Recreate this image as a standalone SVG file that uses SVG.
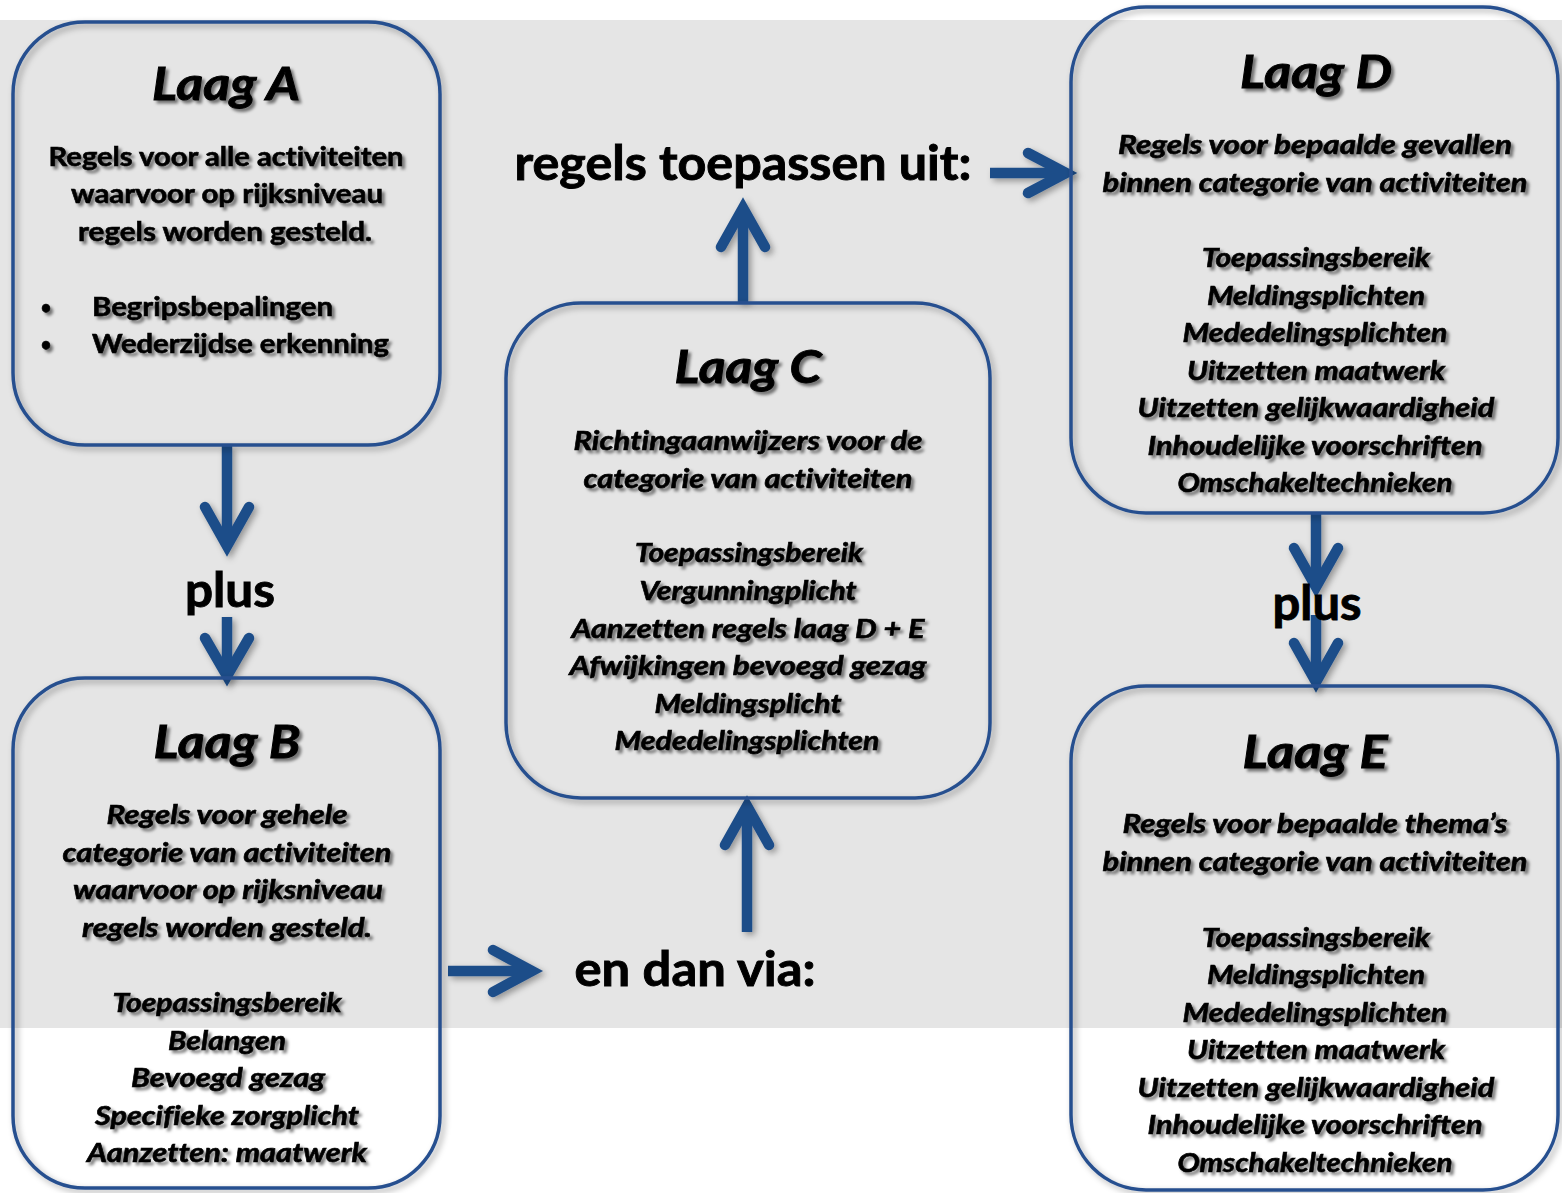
<svg xmlns="http://www.w3.org/2000/svg" width="1562" height="1193" viewBox="0 0 1562 1193">
<defs>
<filter id="ts" x="-10%" y="-30%" width="120%" height="160%">
<feDropShadow dx="3" dy="3" stdDeviation="1.8" flood-color="#000" flood-opacity="0.5"/>
</filter>
<filter id="bs" x="-5%" y="-5%" width="110%" height="110%">
<feDropShadow dx="3" dy="3" stdDeviation="3" flood-color="#000" flood-opacity="0.35"/>
</filter>
<style>
.box{fill:none;stroke:#28508f;stroke-width:3.5}
.t{font-family:Lato,"Liberation Sans",sans-serif;font-weight:bold;fill:#000;stroke:#000;stroke-width:0.6;text-anchor:middle;font-variant-ligatures:none}
.title{font-size:45px;font-style:italic;stroke-width:0.9}
.body{font-size:26px}
.it{font-style:italic}
.big{font-size:47px;stroke-width:0.9}
.bul{font-size:18px}
.sh{filter:url(#ts)}
.shaft{stroke:#1f4e89;stroke-width:10.5;fill:none;stroke-linecap:butt}
.head{stroke:#1f4e89;stroke-width:10.5;fill:none;stroke-linecap:round;stroke-linejoin:miter;stroke-miterlimit:10}
</style>
</defs>
<rect x="0" y="0" width="1562" height="1193" fill="#ffffff"/>
<rect x="0" y="20" width="1562" height="1008" fill="#e5e5e5"/>

<g id="connectors" filter="url(#bs)">
<line class="shaft" x1="227" y1="446" x2="227" y2="540"/>
<polyline class="head" points="205,507 227,546 249,507"/>
<line class="shaft" x1="227" y1="617" x2="227" y2="670"/>
<polyline class="head" points="205,638 227,676 249,638"/>
<line class="shaft" x1="743" y1="302" x2="743" y2="212"/>
<polyline class="head" points="721,247 743,208 765,247"/>
<line class="shaft" x1="747" y1="932" x2="747" y2="812"/>
<polyline class="head" points="725,845 747,806 769,845"/>
<line class="shaft" x1="448" y1="971" x2="528" y2="971"/>
<polyline class="head" points="493,950 532,971 493,992"/>
<line class="shaft" x1="990" y1="173" x2="1062" y2="173"/>
<polyline class="head" points="1028,153 1066,173 1028,193"/>
<line class="shaft" x1="1316" y1="514" x2="1316" y2="582"/>
<polyline class="head" points="1294,548 1316,587 1338,548"/>
<line class="shaft" x1="1316" y1="615" x2="1316" y2="678"/>
<polyline class="head" points="1294,643 1316,682 1338,643"/>
</g>

<g id="laagA">
<rect class="box" x="13" y="22" width="427" height="423" rx="72" filter="url(#bs)"/>
<g class="sh">
<text class="t title" x="226" y="100" textLength="148" lengthAdjust="spacingAndGlyphs">Laag A</text>
<text class="t body" x="226" y="166" textLength="355" lengthAdjust="spacingAndGlyphs">Regels voor alle activiteiten</text>
<text class="t body" x="227" y="203" textLength="312" lengthAdjust="spacingAndGlyphs">waarvoor op rijksniveau</text>
<text class="t body" x="225" y="241" textLength="294" lengthAdjust="spacingAndGlyphs">regels worden gesteld.</text>
<text class="t bul" x="46" y="314">•</text>
<text class="t bul" x="46" y="351">•</text>
<text class="t body" x="92" y="316" style="text-anchor:start" textLength="241" lengthAdjust="spacingAndGlyphs">Begripsbepalingen</text>
<text class="t body" x="92" y="353" style="text-anchor:start" textLength="297" lengthAdjust="spacingAndGlyphs">Wederzijdse erkenning</text>
</g>
</g>

<g id="laagB">
<rect class="box" x="13" y="678" width="427" height="510" rx="72" filter="url(#bs)"/>
<g class="sh">
<text class="t title" x="227" y="758" textLength="147" lengthAdjust="spacingAndGlyphs">Laag B</text>
<text class="t body it" x="227" y="824" textLength="241" lengthAdjust="spacingAndGlyphs">Regels voor gehele</text>
<text class="t body it" x="227" y="862" textLength="329" lengthAdjust="spacingAndGlyphs">categorie van activiteiten</text>
<text class="t body it" x="228" y="899" textLength="310" lengthAdjust="spacingAndGlyphs">waarvoor op rijksniveau</text>
<text class="t body it" x="227" y="937" textLength="290" lengthAdjust="spacingAndGlyphs">regels worden gesteld.</text>
<text class="t body it" x="227" y="1012" textLength="229" lengthAdjust="spacingAndGlyphs">Toepassingsbereik</text>
<text class="t body it" x="227" y="1050" textLength="118" lengthAdjust="spacingAndGlyphs">Belangen</text>
<text class="t body it" x="228" y="1087" textLength="194" lengthAdjust="spacingAndGlyphs">Bevoegd gezag</text>
<text class="t body it" x="227" y="1125" textLength="264" lengthAdjust="spacingAndGlyphs">Specifieke zorgplicht</text>
<text class="t body it" x="227" y="1162" textLength="280" lengthAdjust="spacingAndGlyphs">Aanzetten: maatwerk</text>
</g>
</g>

<g id="laagC">
<rect class="box" x="506" y="303" width="484" height="495" rx="75" filter="url(#bs)"/>
<g class="sh">
<text class="t title" x="748" y="383" textLength="147" lengthAdjust="spacingAndGlyphs">Laag C</text>
<text class="t body it" x="748" y="450" textLength="349" lengthAdjust="spacingAndGlyphs">Richtingaanwijzers voor de</text>
<text class="t body it" x="748" y="488" textLength="329" lengthAdjust="spacingAndGlyphs">categorie van activiteiten</text>
<text class="t body it" x="749" y="562" textLength="228" lengthAdjust="spacingAndGlyphs">Toepassingsbereik</text>
<text class="t body it" x="748" y="600" textLength="217" lengthAdjust="spacingAndGlyphs">Vergunningplicht</text>
<text class="t body it" x="748" y="638" textLength="353" lengthAdjust="spacingAndGlyphs">Aanzetten regels laag D + E</text>
<text class="t body it" x="748" y="675" textLength="357" lengthAdjust="spacingAndGlyphs">Afwijkingen bevoegd gezag</text>
<text class="t body it" x="748" y="713" textLength="187" lengthAdjust="spacingAndGlyphs">Meldingsplicht</text>
<text class="t body it" x="747" y="750" textLength="265" lengthAdjust="spacingAndGlyphs">Mededelingsplichten</text>
</g>
</g>

<g id="laagD">
<rect class="box" x="1071" y="7" width="487" height="506" rx="75" filter="url(#bs)"/>
<g class="sh">
<text class="t title" x="1316" y="88" textLength="152" lengthAdjust="spacingAndGlyphs">Laag D</text>
<text class="t body it" x="1315" y="154" textLength="394" lengthAdjust="spacingAndGlyphs">Regels voor bepaalde gevallen</text>
<text class="t body it" x="1315" y="192" textLength="425" lengthAdjust="spacingAndGlyphs">binnen categorie van activiteiten</text>
<text class="t body it" x="1316" y="267" textLength="228" lengthAdjust="spacingAndGlyphs">Toepassingsbereik</text>
<text class="t body it" x="1316" y="305" textLength="218" lengthAdjust="spacingAndGlyphs">Meldingsplichten</text>
<text class="t body it" x="1315" y="342" textLength="265" lengthAdjust="spacingAndGlyphs">Mededelingsplichten</text>
<text class="t body it" x="1316" y="380" textLength="258" lengthAdjust="spacingAndGlyphs">Uitzetten maatwerk</text>
<text class="t body it" x="1316" y="417" textLength="357" lengthAdjust="spacingAndGlyphs">Uitzetten gelijkwaardigheid</text>
<text class="t body it" x="1315" y="455" textLength="335" lengthAdjust="spacingAndGlyphs">Inhoudelijke voorschriften</text>
<text class="t body it" x="1315" y="492" textLength="275" lengthAdjust="spacingAndGlyphs">Omschakeltechnieken</text>
</g>
</g>

<g id="laagE">
<rect class="box" x="1071" y="686" width="487" height="504" rx="75" filter="url(#bs)"/>
<g class="sh">
<text class="t title" x="1315" y="768" textLength="145" lengthAdjust="spacingAndGlyphs">Laag E</text>
<text class="t body it" x="1315" y="833" textLength="385" lengthAdjust="spacingAndGlyphs">Regels voor bepaalde thema’s</text>
<text class="t body it" x="1315" y="871" textLength="425" lengthAdjust="spacingAndGlyphs">binnen categorie van activiteiten</text>
<text class="t body it" x="1316" y="947" textLength="228" lengthAdjust="spacingAndGlyphs">Toepassingsbereik</text>
<text class="t body it" x="1316" y="984" textLength="218" lengthAdjust="spacingAndGlyphs">Meldingsplichten</text>
<text class="t body it" x="1315" y="1022" textLength="265" lengthAdjust="spacingAndGlyphs">Mededelingsplichten</text>
<text class="t body it" x="1316" y="1059" textLength="258" lengthAdjust="spacingAndGlyphs">Uitzetten maatwerk</text>
<text class="t body it" x="1316" y="1097" textLength="357" lengthAdjust="spacingAndGlyphs">Uitzetten gelijkwaardigheid</text>
<text class="t body it" x="1315" y="1134" textLength="335" lengthAdjust="spacingAndGlyphs">Inhoudelijke voorschriften</text>
<text class="t body it" x="1315" y="1172" textLength="275" lengthAdjust="spacingAndGlyphs">Omschakeltechnieken</text>
</g>
</g>

<g id="label-toepassen">
<text class="t big" x="743" y="180" textLength="457" lengthAdjust="spacingAndGlyphs">regels toepassen uit:</text>
</g>
<g id="label-via">
<text class="t big" x="695" y="986" textLength="241" lengthAdjust="spacingAndGlyphs">en dan via:</text>
</g>
<g id="label-plus-1">
<text class="t big" x="230" y="607" textLength="90" lengthAdjust="spacingAndGlyphs">plus</text>
</g>
<g id="label-plus-2">
<text class="t big" x="1317" y="620" textLength="89" lengthAdjust="spacingAndGlyphs">plus</text>
</g>
</svg>
